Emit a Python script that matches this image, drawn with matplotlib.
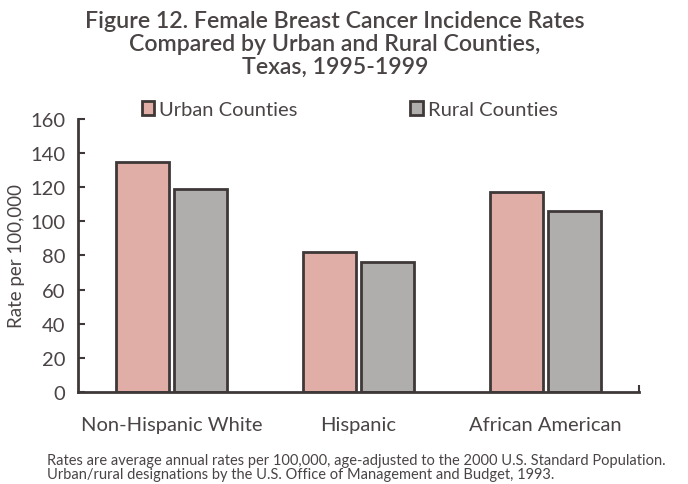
import numpy as np
import matplotlib
matplotlib.use("Agg")
import matplotlib.pyplot as plt

# data
groups = ["Non-Hispanic White", "Hispanic", "African American"]
urban = [135, 82, 117]
rural = [119, 76, 106]
series_names = ["Urban Counties", "Rural Counties"]
yticks = [0, 20, 40, 60, 80, 100, 120, 140, 160]

urban_color = "#e0aea6"
rural_color = "#b0adad"
edge = "#3f3838"
txt = "#4a4444"

plt.rcParams['font.family'] = ['Lato', 'DejaVu Sans']

fig = plt.figure(figsize=(6.88, 4.85), dpi=100)
ax = fig.add_axes([0.1134, 0.1897, 0.8154, 0.5629])

x = np.arange(len(groups))
w = 0.28
off = 0.155
ax.bar(x - off, urban, w, color=urban_color, edgecolor=edge, linewidth=2, label=series_names[0])
ax.bar(x + off, rural, w, color=rural_color, edgecolor=edge, linewidth=2, label=series_names[1])

ax.set_xlim(-0.5, 2.5)
ax.set_ylim(0, 160)
ax.set_yticks(yticks)
ax.set_xticks(x)
ax.set_xticklabels(groups)
ax.set_xticks([2.5], minor=True)

for s in ["top", "right"]:
    ax.spines[s].set_visible(False)
for s in ["left", "bottom"]:
    ax.spines[s].set_color(edge)
    ax.spines[s].set_linewidth(2)

ax.tick_params(axis='y', direction='in', length=5, width=1.5, color=edge,
               labelsize=14.5, labelcolor=txt, pad=9)
ax.tick_params(axis='x', which='major', length=0, labelsize=14.5, labelcolor=txt, pad=17)
ax.tick_params(axis='x', which='minor', direction='in', length=5, width=1.5, color=edge)

ax.set_ylabel("Rate per 100,000", fontsize=13.5, color=txt, labelpad=4)

fig.text(0.487, 0.977, "Figure 12. Female Breast Cancer Incidence Rates\n"
         "Compared by Urban and Rural Counties,\nTexas, 1995-1999",
         ha='center', va='top', fontsize=16.7, fontweight='semibold', color=txt,
         linespacing=1.1)

leg = ax.legend(loc='lower left', bbox_to_anchor=(0.1, 0.975), ncol=2, frameon=False,
                handlelength=0.6, handleheight=0.7, handletextpad=0.25,
                columnspacing=5.6, fontsize=14.5, borderaxespad=0)
for t in leg.get_texts():
    t.set_color(txt)

fig.text(0.068, 0.007, "Rates are average annual rates per 100,000, age-adjusted to the 2000 U.S. Standard Population.\n"
         "Urban/rural designations by the U.S. Office of Management and Budget, 1993.",
         ha='left', va='bottom', fontsize=10.5, color=txt, linespacing=1.0)

fig.savefig("out.png", dpi=100)
